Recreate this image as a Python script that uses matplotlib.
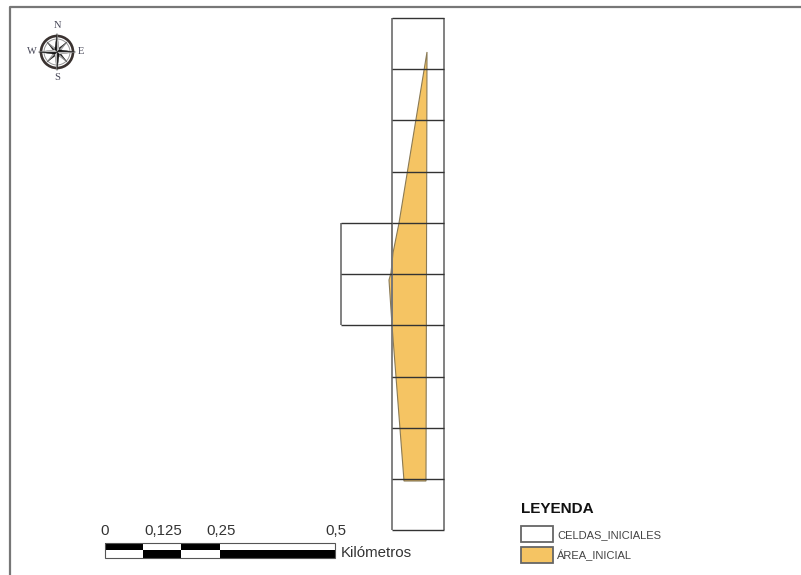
import numpy as np
import matplotlib
matplotlib.use("Agg")
import matplotlib.pyplot as plt
from matplotlib.patches import Polygon, Rectangle, Circle

# Map content, in map units measured from the sheet
cell_x_edges = [392, 444]
cell_y_edges = [18, 69, 120, 172, 223, 274, 325, 377, 428, 479, 530]
extra_x_edges = [341, 392]
extra_y_edges = [223, 274, 325]
area_x = [427, 426, 404, 392, 389, 391, 393, 399]
area_y = [52, 481, 481, 325, 280, 273, 253, 223]
scale_labels = ["0", "0,125", "0,25", "0,5"]
scale_label_x = [105, 163, 221, 336]
scale_breaks = [0, 0.0826, 0.1652, 0.25, 0.5]
scale_units = "Kilómetros"
legend_title = "LEYENDA"
legend_labels = ["CELDAS_INICIALES", "ÁREA_INICIAL"]
area_color = "#F5C463"
vline_color = "#777777"
hline_color = "#333333"

plt.rcParams["font.family"] = ["Liberation Sans", "DejaVu Sans"]
fig = plt.figure(figsize=(8.01, 5.75), dpi=100)
ax = fig.add_axes([0, 0, 1, 1])
ax.set_xlim(0, 801)
ax.set_ylim(575, 0)
ax.axis("off")

# Sheet frame
ax.plot([801, 10, 10], [7, 7, 575], color="#777777", lw=1.6, zorder=1)

# Area
ax.add_patch(Polygon(np.column_stack([area_x, area_y]), closed=True, fc=area_color,
                     ec="#8a7a55", lw=0.8, zorder=2))

# Cells: sides drawn lighter than the cross lines, as in the scanned sheet
def cells(xe, ye):
    ax.vlines(xe, ye[0], ye[-1], color=vline_color, lw=1.3, zorder=3)
    ax.hlines(ye, xe[0], xe[1], color=hline_color, lw=1.0, zorder=3)
cells(cell_x_edges, cell_y_edges)
cells(extra_x_edges, extra_y_edges)

# Scale bar
x0, x1 = 105, 335
ytop, ymid, ybot = 542.5, 550, 557.5
px = lambda v: x0 + v / 0.5 * (x1 - x0)
for i in range(len(scale_breaks) - 1):
    a, b = px(scale_breaks[i]), px(scale_breaks[i + 1])
    top_black = i % 2 == 0
    ax.add_patch(Rectangle((a, ytop), b - a, ymid - ytop, fc="black" if top_black else "white",
                           ec="none", zorder=3))
    ax.add_patch(Rectangle((a, ymid), b - a, ybot - ymid, fc="white" if top_black else "black",
                           ec="none", zorder=3))
ax.add_patch(Rectangle((x0, ytop), x1 - x0, ybot - ytop, fc="none", ec="#555555", lw=0.8, zorder=4))
for lab, xp in zip(scale_labels, scale_label_x):
    ax.text(xp, 535, lab, ha="center", va="baseline", fontsize=10.8, color="#333333")
ax.text(341, 557, scale_units, ha="left", va="baseline", fontsize=10.8, color="#333333")

# Legend
ax.text(521, 513, legend_title, ha="left", va="baseline", fontsize=11, fontweight="bold", color="#111111")
ax.add_patch(Rectangle((520.5, 526), 32, 16, fc="white", ec="#666666", lw=1.3))
ax.add_patch(Rectangle((520.5, 547), 32, 16, fc=area_color, ec="#666666", lw=1.3))
ax.text(557, 538, legend_labels[0], ha="left", va="baseline", fontsize=8.0, color="#444444")
ax.text(557, 559, legend_labels[1], ha="left", va="baseline", fontsize=8.0, color="#444444")

# North arrow
cx, cy, R = 57, 52, 16.5
ax.add_patch(Circle((cx, cy), R - 0.5, fc="none", ec="#3a3230", lw=1.9, zorder=5))
ax.add_patch(Circle((cx, cy), R - 3.5, fc="none", ec="#999999", lw=0.7, zorder=5))
for k in [1, 3, 5, 7, 0, 2, 4, 6]:
    th = np.pi / 4 * k
    L = (R + 2) if k % 2 == 0 else R - 2
    w = 3.2 if k % 2 == 0 else 2.4
    tip = (cx + L * np.sin(th), cy - L * np.cos(th))
    l = (cx + w * np.sin(th - np.pi / 4), cy - w * np.cos(th - np.pi / 4))
    r = (cx + w * np.sin(th + np.pi / 4), cy - w * np.cos(th + np.pi / 4))
    ax.add_patch(Polygon([tip, l, (cx, cy)], fc="#111111", ec="#222222", lw=0.3, zorder=6))
    ax.add_patch(Polygon([tip, r, (cx, cy)], fc="#d0d0d0", ec="#666666", lw=0.3, zorder=6))
for s, dx, dy in [("N", 0, -26), ("S", 0, 26), ("W", -25.5, 0), ("E", 23.5, 0)]:
    ax.text(cx + dx, cy + dy, s, ha="center", va="center", fontsize=7.5,
            family="Liberation Serif", color="#444455")

fig.savefig("out.png", dpi=100)
